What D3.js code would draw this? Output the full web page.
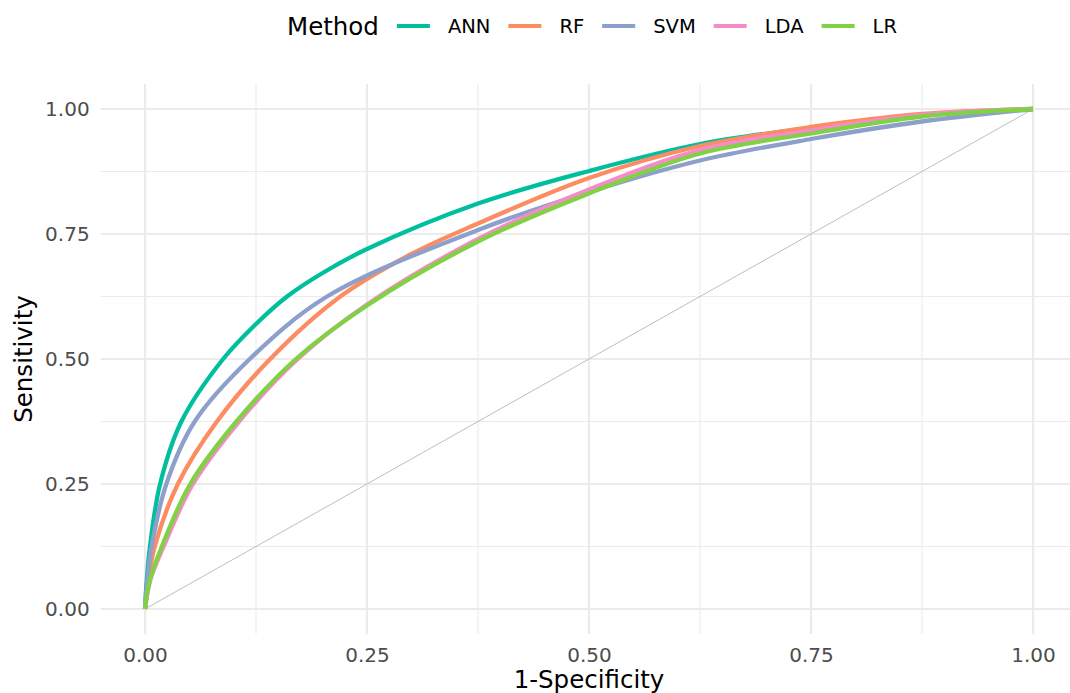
<!DOCTYPE html>
<html>
<head>
<meta charset="utf-8">
<script src="https://cdn.jsdelivr.net/npm/d3@7"></script>
<style>
  body { margin: 0; background: #fff; }
  text { font-family: "DejaVu Sans", sans-serif; }
</style>
</head>
<body>
<svg id="chart"></svg>
<script>
// values
var methods = ["ANN", "RF", "SVM", "LDA", "LR"]
var colors = ["#00BF9F", "#FC8D62", "#8DA0CB", "#F78AC8", "#80D244"]

var fprANN = [0, 0.002, 0.0056, 0.017, 0.041, 0.088, 0.125, 0.16, 0.2, 0.25, 0.375, 0.5, 0.625, 0.75, 0.875, 1]
var tprANN = [0, 0.058, 0.125, 0.25, 0.375, 0.5, 0.57, 0.625, 0.672, 0.72, 0.811, 0.876, 0.93, 0.962, 0.987, 1]

var fprRF = [0, 0.0038, 0.011, 0.037, 0.081, 0.141, 0.22, 0.3, 0.375, 0.5, 0.625, 0.75, 0.875, 1]
var tprRF = [0, 0.058, 0.125, 0.25, 0.375, 0.5, 0.625, 0.71, 0.771, 0.862, 0.926, 0.964, 0.99, 1]

var fprSVM = [0, 0.0026, 0.0075, 0.024, 0.056, 0.118, 0.205, 0.375, 0.5, 0.625, 0.75, 0.875, 1]
var tprSVM = [0, 0.058, 0.125, 0.25, 0.375, 0.5, 0.625, 0.758, 0.834, 0.897, 0.94, 0.975, 1]

var fprLDA = [0, 0.006, 0.021, 0.054, 0.106, 0.172, 0.25, 0.375, 0.5, 0.625, 0.75, 0.875, 1]
var tprLDA = [0, 0.058, 0.125, 0.25, 0.375, 0.5, 0.609, 0.74, 0.839, 0.918, 0.957, 0.988, 1]

var fprLR = [0, 0.0056, 0.019, 0.051, 0.103, 0.17, 0.25, 0.375, 0.5, 0.625, 0.75, 0.875, 1]
var tprLR = [0, 0.058, 0.125, 0.25, 0.375, 0.5, 0.607, 0.735, 0.831, 0.911, 0.951, 0.985, 1]

var majorTicks = [0, 0.25, 0.5, 0.75, 1]
var minorTicks = [0.125, 0.375, 0.625, 0.875]

var series = [
  { name: "ANN", fpr: fprANN, tpr: tprANN },
  { name: "RF", fpr: fprRF, tpr: tprRF },
  { name: "SVM", fpr: fprSVM, tpr: tprSVM },
  { name: "LDA", fpr: fprLDA, tpr: tprLDA },
  { name: "LR", fpr: fprLR, tpr: tprLR }
]

var width = 1070
var height = 693
var svg = d3.select('#chart').attr('width', width).attr('height', height)

var x = d3.scaleLinear().domain([-0.05, 1.05]).range([100.6, 1077.4])
var y = d3.scaleLinear().domain([-0.05, 1.05]).range([634, 84])
var color = d3.scaleOrdinal().domain(methods).range(colors)

// grid
var grid = svg.append('g').attr('class', 'grid')
grid.selectAll('.hminor').data(minorTicks).enter().append('line')
  .attr('x1', x(-0.05)).attr('x2', x(1.05))
  .attr('y1', d => y(d)).attr('y2', d => y(d))
  .attr('stroke', '#EBEBEB').attr('stroke-width', 1.1)
grid.selectAll('.vminor').data(minorTicks).enter().append('line')
  .attr('y1', y(-0.05)).attr('y2', y(1.05))
  .attr('x1', d => x(d)).attr('x2', d => x(d))
  .attr('stroke', '#EBEBEB').attr('stroke-width', 1.1)
grid.selectAll('.hmajor').data(majorTicks).enter().append('line')
  .attr('x1', x(-0.05)).attr('x2', x(1.05))
  .attr('y1', d => y(d)).attr('y2', d => y(d))
  .attr('stroke', '#EBEBEB').attr('stroke-width', 2.2)
grid.selectAll('.vmajor').data(majorTicks).enter().append('line')
  .attr('y1', y(-0.05)).attr('y2', y(1.05))
  .attr('x1', d => x(d)).attr('x2', d => x(d))
  .attr('stroke', '#EBEBEB').attr('stroke-width', 2.2)

// diagonal reference
svg.append('line')
  .attr('x1', x(0)).attr('y1', y(0))
  .attr('x2', x(1)).attr('y2', y(1))
  .attr('stroke', '#BEBEBE').attr('stroke-width', 1)

// ROC curves
var line = d3.line()
  .x(d => x(d[0]))
  .y(d => y(d[1]))
  .curve(d3.curveCatmullRom.alpha(0.5))

svg.append('g').selectAll('path')
  .data(series)
  .enter().append('path')
  .attr('d', s => line(s.fpr.map((f, i) => [f, s.tpr[i]])))
  .attr('fill', 'none')
  .attr('stroke', s => color(s.name))
  .attr('stroke-width', 4.3)
  .attr('stroke-linejoin', 'round')

// axes
var fmt = d3.format('.2f')
svg.append('g')
  .attr('transform', 'translate(' + x(-0.05) + ',0)')
  .call(d3.axisLeft(y).tickValues(majorTicks).tickSize(0).tickPadding(11).tickFormat(fmt))
svg.append('g')
  .attr('transform', 'translate(0,' + y(-0.05) + ')')
  .call(d3.axisBottom(x).tickValues(majorTicks).tickSize(0).tickPadding(14).tickFormat(fmt))
svg.selectAll('.domain').remove()
svg.selectAll('.tick text')
  .attr('font-family', '"DejaVu Sans", sans-serif')
  .attr('font-size', 20)
  .attr('fill', '#4D4D4D')

// axis titles
svg.append('text')
  .attr('x', (x(0) + x(1)) / 2).attr('y', 688)
  .attr('text-anchor', 'middle')
  .attr('font-size', 24.5).attr('fill', '#000')
  .text('1-Specificity')
svg.append('text')
  .attr('transform', 'translate(32,' + (y(0) + y(1)) / 2 + ') rotate(-90)')
  .attr('text-anchor', 'middle')
  .attr('font-size', 24.5).attr('fill', '#000')
  .text('Sensitivity')

// legend
var legend = svg.append('g').attr('class', 'legend')
var title = legend.append('text')
  .attr('x', 287).attr('y', 35)
  .attr('font-size', 24.5).attr('fill', '#000')
  .text('Method')
var cx = 287 + title.node().getComputedTextLength() + 18
methods.forEach(function(m) {
  legend.append('line')
    .attr('x1', cx).attr('x2', cx + 33)
    .attr('y1', 26).attr('y2', 26)
    .attr('stroke', color(m)).attr('stroke-width', 4)
  var t = legend.append('text')
    .attr('x', cx + 51).attr('y', 33)
    .attr('font-size', 19.5).attr('fill', '#000')
    .text(m)
  cx = cx + 51 + t.node().getComputedTextLength() + 18
})
</script>
</body>
</html>
